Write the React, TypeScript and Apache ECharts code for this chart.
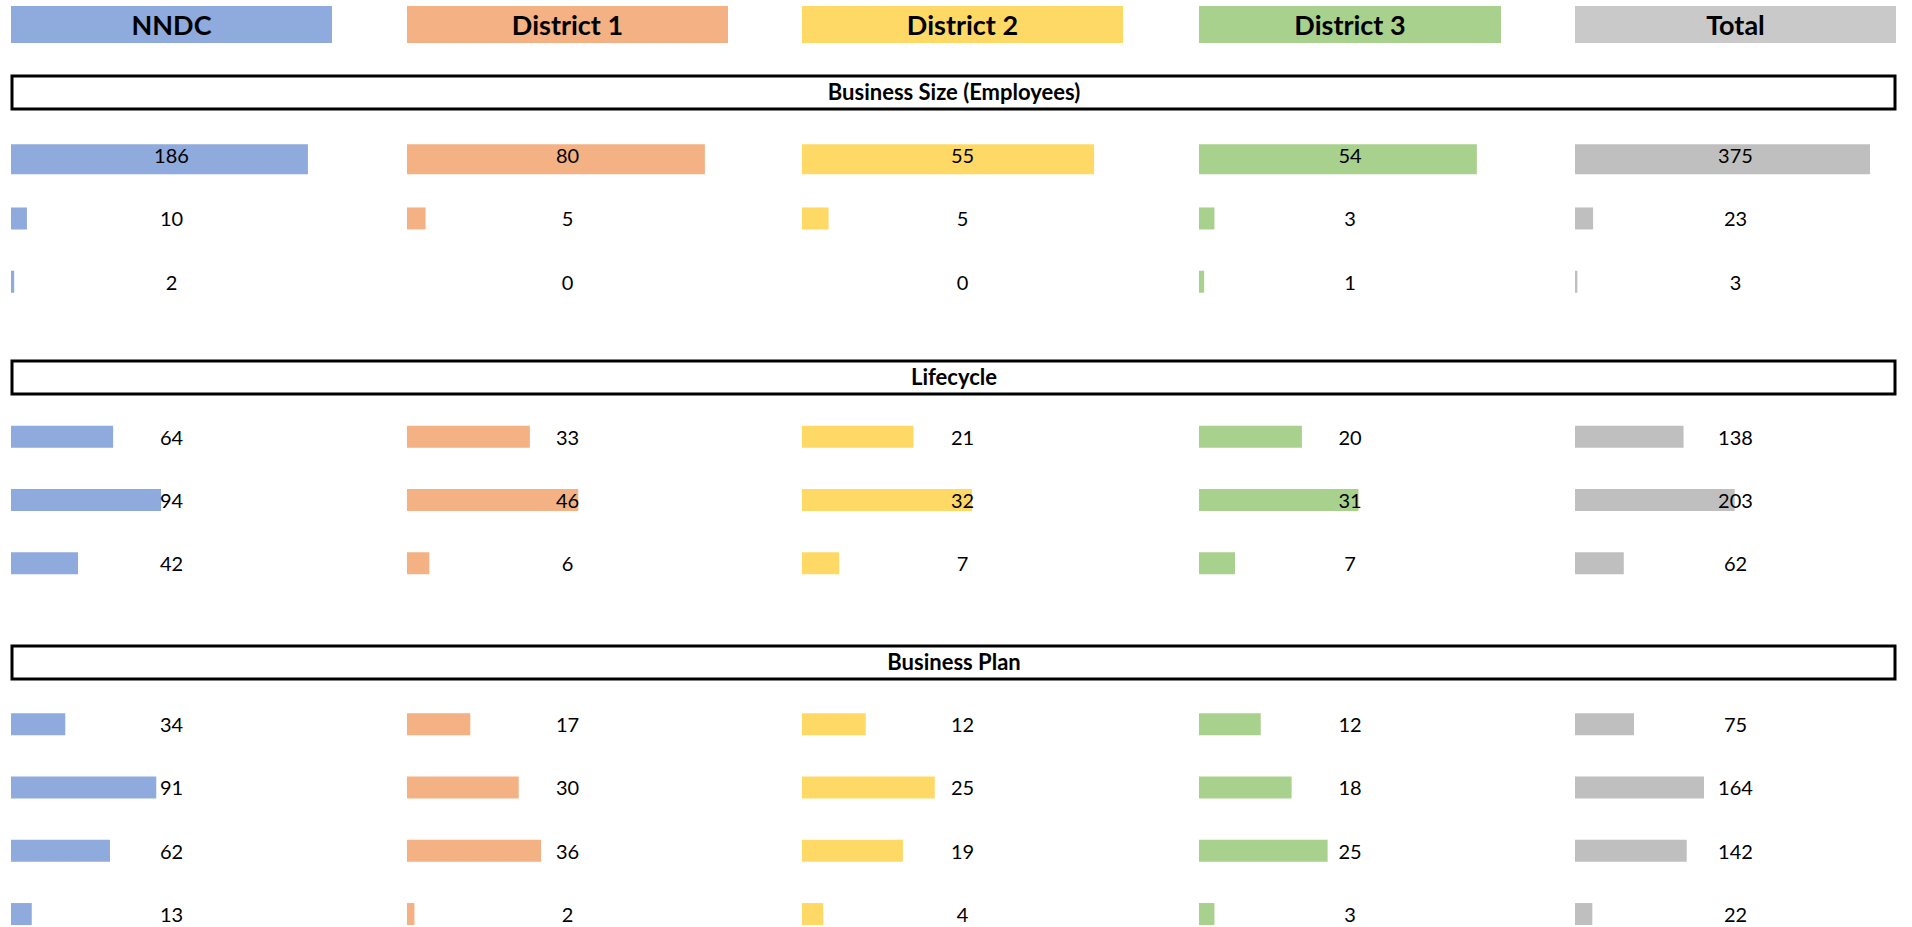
import React, { useEffect, useRef } from "react";
import * as echarts from "echarts";

// ---- data ----
const columns = ["NNDC", "District 1", "District 2", "District 3", "Total"];
const sectionTitles = ["Business Size (Employees)", "Lifecycle", "Business Plan"];

const sizeCategories = ["Size A", "Size B", "Size C"];
const lifecycleCategories = ["Stage A", "Stage B", "Stage C"];
const planCategories = ["Plan A", "Plan B", "Plan C", "Plan D"];

const sizeNNDC = [186, 10, 2];
const sizeD1 = [80, 5, 0];
const sizeD2 = [55, 5, 0];
const sizeD3 = [54, 3, 1];
const sizeTotal = [375, 23, 3];

const lifeNNDC = [64, 94, 42];
const lifeD1 = [33, 46, 6];
const lifeD2 = [21, 32, 7];
const lifeD3 = [20, 31, 7];
const lifeTotal = [138, 203, 62];

const planNNDC = [34, 91, 62, 13];
const planD1 = [17, 30, 36, 2];
const planD2 = [12, 25, 19, 4];
const planD3 = [12, 18, 25, 3];
const planTotal = [75, 164, 142, 22];

// ---- styles / layout ----
const headerColors = ["#8FAADC", "#F4B183", "#FFD966", "#A9D18E", "#C9C9C9"];
const barColors = ["#8FAADC", "#F4B183", "#FFD966", "#A9D18E", "#BFBFBF"];
const colLayout = [
  [11, 321],
  [407, 321],
  [802, 321],
  [1199, 302],
  [1575, 321],
];
const fillRatio = [0.925, 0.928, 0.91, 0.92, 0.919];
const sectionBoxes = [
  [76, 33],
  [361, 33],
  [646, 33],
];
const sectionGridTop = [123.5, 405, 692.5];
const rowStep = 63.3;
const FONT = "Lato, 'Open Sans', sans-serif";

export default function App() {
  const ref = useRef<HTMLDivElement>(null);

  useEffect(() => {
    if (!ref.current) return;
    const chart = echarts.init(ref.current, null, { renderer: "svg" });

    const sections = [
      { cats: sizeCategories, vals: [sizeNNDC, sizeD1, sizeD2, sizeD3, sizeTotal] },
      { cats: lifecycleCategories, vals: [lifeNNDC, lifeD1, lifeD2, lifeD3, lifeTotal] },
      { cats: planCategories, vals: [planNNDC, planD1, planD2, planD3, planTotal] },
    ];

    const colMax = columns.map((_, c) =>
      Math.max(...sections.map((s) => Math.max(...s.vals[c])))
    );

    const grid: any[] = [];
    const xAxis: any[] = [];
    const yAxis: any[] = [];
    const series: any[] = [];

    sections.forEach((sec, s) => {
      columns.forEach((_, c) => {
        const gi = grid.length;
        const axisMax = colMax[c] / fillRatio[c];
        grid.push({
          left: colLayout[c][0],
          width: colLayout[c][1],
          top: sectionGridTop[s],
          height: sec.cats.length * rowStep,
        });
        xAxis.push({ gridIndex: gi, type: "value", min: 0, max: axisMax, show: false });
        yAxis.push({ gridIndex: gi, type: "category", data: sec.cats, inverse: true, show: false });
        const vals = sec.vals[c];
        if (s === 0) {
          series.push({
            type: "bar",
            xAxisIndex: gi,
            yAxisIndex: gi,
            data: vals.map((v, i) => (i === 0 ? v : "-")),
            barWidth: 30,
            barGap: "-100%",
            itemStyle: { color: barColors[c] },
            silent: true,
          });
          series.push({
            type: "bar",
            xAxisIndex: gi,
            yAxisIndex: gi,
            data: vals.map((v, i) => (i === 0 ? "-" : v)),
            barWidth: 22,
            barGap: "-100%",
            itemStyle: { color: barColors[c] },
            silent: true,
          });
        } else {
          series.push({
            type: "bar",
            xAxisIndex: gi,
            yAxisIndex: gi,
            data: vals,
            barWidth: 22,
            barGap: "-100%",
            itemStyle: { color: barColors[c] },
            silent: true,
          });
        }
        // label carrier spanning the full cell, so the value sits at cell centre
        series.push({
          type: "bar",
          xAxisIndex: gi,
          yAxisIndex: gi,
          data: vals.map(() => axisMax),
          barWidth: 22,
          barGap: "-100%",
          itemStyle: { color: "rgba(0,0,0,0)" },
          silent: true,
          z: 5,
          label: {
            show: true,
            position: "inside",
            formatter: (p: any) => String(vals[p.dataIndex]),
            color: "#000",
            fontSize: 20,
            fontFamily: FONT,
          },
        });
      });
    });

    const graphic: any[] = [];
    columns.forEach((name, c) => {
      graphic.push({
        type: "rect",
        shape: { x: colLayout[c][0], y: 6, width: colLayout[c][1], height: 37 },
        style: { fill: headerColors[c] },
        silent: true,
      });
      graphic.push({
        type: "text",
        x: colLayout[c][0] + colLayout[c][1] / 2,
        y: 24,
        style: {
          text: name,
          fill: "#000",
          fontSize: 27,
          fontWeight: "bold",
          fontFamily: FONT,
          align: "center",
          verticalAlign: "middle",
        },
        silent: true,
      });
    });
    sectionTitles.forEach((t, s) => {
      const [y, h] = sectionBoxes[s];
      graphic.push({
        type: "rect",
        shape: { x: 12, y, width: 1883, height: h },
        style: { fill: "#fff", stroke: "#000", lineWidth: 3 },
        silent: true,
      });
      graphic.push({
        type: "text",
        x: 954,
        y: y + h / 2 - 1.5,
        style: {
          text: t,
          fill: "#000",
          fontSize: 22,
          fontWeight: "bold",
          fontFamily: FONT,
          align: "center",
          verticalAlign: "middle",
        },
        silent: true,
      });
    });

    chart.setOption({
      animation: false,
      backgroundColor: "#fff",
      grid,
      xAxis,
      yAxis,
      series,
      graphic,
    });

    return () => chart.dispose();
  }, []);

  return (
    <div
      style={{
        position: "fixed",
        left: 0,
        top: 0,
        width: 1912,
        height: 927,
        overflow: "hidden",
        background: "#fff",
      }}
    >
      <div ref={ref} style={{ width: 1912, height: 1000 }} />
    </div>
  );
}
